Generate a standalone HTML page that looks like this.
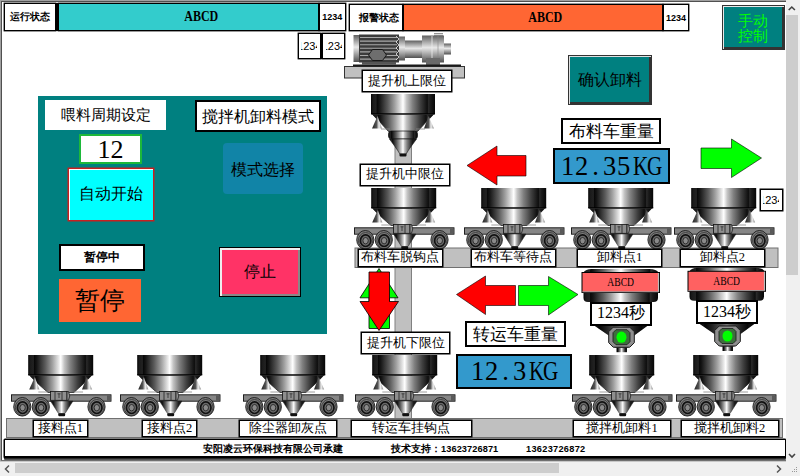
<!DOCTYPE html><html><head><meta charset="utf-8"><style>
html,body{margin:0;padding:0;width:800px;height:476px;overflow:hidden;background:#fff;position:relative}
div{box-sizing:border-box}
</style></head><body>
<svg width="800" height="476" style="position:absolute;left:0;top:0">
<defs>
<linearGradient id="met" x1="0" x2="1" y1="0" y2="0">
<stop offset="0" stop-color="#050505"/><stop offset="0.03" stop-color="#1a1a1a"/>
<stop offset="0.08" stop-color="#222"/><stop offset="0.095" stop-color="#080808"/>
<stop offset="0.13" stop-color="#151515"/><stop offset="0.26" stop-color="#5a5a5a"/>
<stop offset="0.37" stop-color="#a0a0a0"/><stop offset="0.46" stop-color="#e0e0e0"/>
<stop offset="0.5" stop-color="#ffffff"/><stop offset="0.555" stop-color="#c4c4c4"/>
<stop offset="0.65" stop-color="#808080"/><stop offset="0.77" stop-color="#404040"/>
<stop offset="0.88" stop-color="#0e0e0e"/><stop offset="0.9" stop-color="#2a2a2a"/>
<stop offset="0.93" stop-color="#1a1a1a"/><stop offset="1" stop-color="#050505"/></linearGradient>
<linearGradient id="leg" x1="0" x2="1" y1="0" y2="0">
<stop offset="0" stop-color="#222"/><stop offset="0.45" stop-color="#555"/><stop offset="0.7" stop-color="#f0f0f0"/><stop offset="1" stop-color="#888"/></linearGradient>
<symbol id="hop" viewBox="0 0 64 63" overflow="visible" preserveAspectRatio="none">
<rect x="0" y="0" width="64" height="20" fill="url(#met)"/>

<line x1="0" y1="19.8" x2="64" y2="19.8" stroke="#000" stroke-width="1.3"/>
<path d="M1.5,20.5 C7,26.5 13,32 19.5,37.5 L45,37.5 C51,32 57,26.5 62.5,20.5 Z" fill="url(#met)" stroke="#111" stroke-width="0.7"/>
<polygon points="6.5,22 1,34.5 11,34.5" fill="url(#leg)"/>
<polygon points="57.5,22 53,34.5 63,34.5" fill="url(#leg)"/>
<line x1="10" y1="37" x2="19" y2="37" stroke="#888" stroke-width="0.8"/>
<line x1="45" y1="37" x2="54" y2="37" stroke="#888" stroke-width="0.8"/>
</symbol>
<symbol id="hoist" viewBox="0 0 64 63" overflow="visible">
<rect x="0" y="0" width="64" height="20" fill="url(#met)"/>
<line x1="0" y1="19.8" x2="64" y2="19.8" stroke="#000" stroke-width="1.3"/>
<path d="M1.5,20.5 C7,26 12,31.5 17.5,37.5 L46.5,37.5 C52,31.5 57,26 62.5,20.5 Z" fill="url(#met)" stroke="#111" stroke-width="0.7"/>
<polygon points="6.5,22 1,34.5 11,34.5" fill="url(#leg)"/>
<polygon points="57.5,22 53,34.5 63,34.5" fill="url(#leg)"/>
<line x1="10" y1="35" x2="19" y2="35" stroke="#888" stroke-width="0.8"/>
<line x1="45" y1="35" x2="54" y2="35" stroke="#888" stroke-width="0.8"/>
<rect x="17.5" y="37" width="29" height="8" rx="3" fill="url(#met)" stroke="#111" stroke-width="0.7"/>
<path d="M18.5,45 L45.5,45 C42,50 38,55 35,60.2 L29,60.2 C26,55 22,50 18.5,45 Z" fill="url(#met)" stroke="#111" stroke-width="0.6"/>
<rect x="28.5" y="59.5" width="7" height="3" rx="1" fill="#111"/>
</symbol>
<symbol id="wheel" viewBox="-10 -10 20 20" overflow="visible">
<ellipse cx="0" cy="0" rx="8.6" ry="9.3" fill="#7a7a7a" stroke="#1a1a1a" stroke-width="0.9"/>
<ellipse cx="0.3" cy="0.7" rx="7.2" ry="8" fill="none" stroke="#333" stroke-width="0.8"/>
<ellipse cx="0.3" cy="0.9" rx="5.2" ry="5.8" fill="#6a6a6a" stroke="#111" stroke-width="1.7"/>
<ellipse cx="0.3" cy="0.9" rx="2.7" ry="3.2" fill="#8a8a8a" stroke="#222" stroke-width="0.9"/>
</symbol>
<symbol id="cart" viewBox="0 0 102 63" overflow="visible">
<use href="#hop" x="17.2" y="0" width="65" height="63"/>
<rect x="0.5" y="39.8" width="99.5" height="6.4" fill="#868686" stroke="#111" stroke-width="0.9"/>
<rect x="96" y="40.3" width="3.6" height="5.5" fill="#5a5a5a"/>
<use href="#wheel" x="1.3" y="41.8" width="20" height="20"/>
<use href="#wheel" x="19.8" y="41.8" width="20" height="20"/>
<use href="#wheel" x="75.5" y="41.8" width="20" height="20"/>
<rect x="39.5" y="36.5" width="16.5" height="8.8" fill="#8e8e8e" stroke="#111" stroke-width="0.8"/>
<path d="M56,36.5 L57.5,36.5 Q60,41 57.5,45.3 L56,45.3 Z" fill="#8e8e8e" stroke="#111" stroke-width="0.7"/>
<line x1="44" y1="36.5" x2="44" y2="45.3" stroke="#222" stroke-width="0.8"/>
<line x1="51" y1="36.5" x2="51" y2="45.3" stroke="#222" stroke-width="0.8"/>
<line x1="46.5" y1="38.8" x2="49.5" y2="38.8" stroke="#222" stroke-width="0.7"/>
<line x1="48" y1="38.8" x2="48" y2="43" stroke="#222" stroke-width="0.7"/>
<polygon points="39.5,46 62,46 54,58.5 47.5,58.5" fill="url(#met)" stroke="#222" stroke-width="0.5"/>
<rect x="47.3" y="58.3" width="6.8" height="3" rx="1" fill="#111"/>
</symbol>
<linearGradient id="mot" x1="0" x2="0" y1="0" y2="1">
<stop offset="0" stop-color="#606060"/><stop offset="0.45" stop-color="#e8e8e8"/><stop offset="1" stop-color="#505050"/></linearGradient>
</defs>
<rect x="0" y="0" width="786" height="461" fill="none"/>
<line x1="0.5" y1="0" x2="0.5" y2="461" stroke="#a0a0a0"/>
<line x1="1.5" y1="1" x2="1.5" y2="461" stroke="#505050"/>
<line x1="0" y1="0.5" x2="786" y2="0.5" stroke="#a0a0a0"/>
<line x1="1" y1="1.5" x2="786" y2="1.5" stroke="#505050"/>
<line x1="1" y1="460.5" x2="786" y2="460.5" stroke="#707070"/>
<line x1="0" y1="461.5" x2="786" y2="461.5" stroke="#c8c8c8"/>
<rect x="344.5" y="66.5" width="120" height="11.5" fill="#c0c0c0" stroke="#333"/>
<rect x="353.5" y="35" width="5.5" height="27" fill="url(#mot)"/>
<rect x="359" y="34.5" width="40" height="28" fill="#3c3c3c"/>
<line x1="360" y1="37.5" x2="397" y2="37.5" stroke="#a8a8a8" stroke-width="1.1"/>
<line x1="360" y1="41.1" x2="397" y2="41.1" stroke="#a8a8a8" stroke-width="1.1"/>
<line x1="360" y1="44.7" x2="397" y2="44.7" stroke="#a8a8a8" stroke-width="1.1"/>
<line x1="360" y1="48.3" x2="397" y2="48.3" stroke="#a8a8a8" stroke-width="1.1"/>
<line x1="360" y1="51.9" x2="397" y2="51.9" stroke="#a8a8a8" stroke-width="1.1"/>
<line x1="360" y1="55.5" x2="397" y2="55.5" stroke="#a8a8a8" stroke-width="1.1"/>
<line x1="360" y1="59.1" x2="397" y2="59.1" stroke="#a8a8a8" stroke-width="1.1"/>
<polyline points="396,36 399,39 396,42 399,45 396,48 399,51 396,54 399,57 396,60" fill="none" stroke="#eee" stroke-width="0.8"/>
<polygon points="368.5,55 372.5,49.5 382.5,49.5 386.5,55 382.5,60.5 372.5,60.5" fill="#6e6e6e" stroke="#111" stroke-width="0.9"/>
<rect x="399" y="36.5" width="6" height="24" fill="url(#mot)"/>
<rect x="405" y="40.5" width="17" height="17.5" fill="url(#mot)"/>
<rect x="422" y="35.5" width="10" height="27" fill="url(#mot)"/>
<rect x="432" y="35.5" width="12" height="27" fill="url(#mot)"/>
<line x1="432" y1="36" x2="432" y2="62" stroke="#eee" stroke-width="0.8"/>
<line x1="438" y1="36" x2="438" y2="62" stroke="#888" stroke-width="0.6"/>
<rect x="444" y="43.5" width="7" height="11" fill="url(#mot)"/>
<rect x="434" y="33" width="9" height="3" fill="url(#mot)"/>
<rect x="426" y="58" width="14" height="7" fill="#6a6a6a"/>
<rect x="362" y="62" width="34" height="2.5" fill="#555"/>
<rect x="353" y="64.5" width="108" height="2" fill="#1a1a1a"/>
<rect x="395" y="140" width="16.5" height="24" fill="#c0c0c0" stroke="#808080" stroke-width="1"/>
<rect x="395" y="185" width="16.5" height="64" fill="#c0c0c0" stroke="#808080" stroke-width="1"/>
<rect x="395" y="266" width="16.5" height="67" fill="#c0c0c0" stroke="#808080" stroke-width="1"/>
<rect x="395" y="352" width="16.5" height="67" fill="#c0c0c0" stroke="#808080" stroke-width="1"/>
<rect x="355" y="248" width="423" height="19.5" fill="#c0c0c0" stroke="#707070" stroke-width="1"/>
<rect x="6.5" y="418.5" width="776" height="19" fill="#c0c0c0" stroke="#707070" stroke-width="1"/>
<use href="#hoist" x="371" y="94" width="64" height="63"/>
<use href="#cart" x="354" y="188" width="102" height="63"/>
<use href="#cart" x="464" y="188" width="102" height="63"/>
<use href="#cart" x="571" y="188" width="102" height="63"/>
<use href="#cart" x="674" y="188" width="102" height="63"/>
<use href="#cart" x="11" y="355" width="102" height="63"/>
<use href="#cart" x="120" y="355" width="102" height="63"/>
<use href="#cart" x="243" y="355" width="102" height="63"/>
<use href="#cart" x="355" y="355" width="102" height="63"/>
<use href="#cart" x="572" y="355" width="102" height="63"/>
<use href="#cart" x="676" y="355" width="102" height="63"/>
<path d="M583.5,292 L658.0,292 L658.0,298 Q658.0,302 653.5,302 L588.0,302 Q583.5,302 583.5,298 Z" fill="url(#met)"/>
<path d="M583.5,272.5 Q585.5,269 591.5,269 L649.5,269 Q656.5,269 658.5,272.5 Z" fill="url(#met)"/>
<rect x="582.0" y="272.5" width="77.5" height="20" fill="#ff6161" stroke="#000" stroke-width="1"/>
<line x1="658.5" y1="273" x2="658.5" y2="292" stroke="#bbb" stroke-width="1.2"/>
<line x1="582.5" y1="291.8" x2="659.0" y2="291.8" stroke="#999" stroke-width="1"/>
<polygon points="593.5,325 648.5,325 633.5,336 609.5,336" fill="url(#met)"/>
<polygon points="593.5,325 648.5,325 633.5,336 609.5,336" fill="#000" opacity="0.55"/>
<rect x="616.5" y="345.2" width="10.5" height="7" fill="url(#met)"/>
<rect x="614.5" y="345.2" width="14" height="2.5" fill="#333"/>
<polygon points="613.2,327.2 629.8,327.2 634.3,331.7 634.3,342.7 629.8,347.2 613.2,347.2 608.7,342.7 608.7,331.7" fill="#8e8e8e" stroke="#1a1a1a" stroke-width="1"/>
<polygon points="616.0,329.7 627.0,329.7 630.0,332.7 630.0,341.7 627.0,344.7 616.0,344.7 613.0,341.7 613.0,332.7" fill="#3d6e3d" stroke="#222" stroke-width="0.9"/>
<ellipse cx="621.5" cy="337.2" rx="5" ry="5.6" fill="#00ff00"/>
<path d="M689.5,290.8 L764.0,290.8 L764.0,296.8 Q764.0,300.8 759.5,300.8 L694.0,300.8 Q689.5,300.8 689.5,296.8 Z" fill="url(#met)"/>
<path d="M689.5,271.3 Q691.5,267.8 697.5,267.8 L755.5,267.8 Q762.5,267.8 764.5,271.3 Z" fill="url(#met)"/>
<rect x="688.0" y="271.3" width="77.5" height="20" fill="#ff6161" stroke="#000" stroke-width="1"/>
<line x1="764.5" y1="271.8" x2="764.5" y2="290.8" stroke="#bbb" stroke-width="1.2"/>
<line x1="688.5" y1="290.6" x2="765.0" y2="290.6" stroke="#999" stroke-width="1"/>
<polygon points="699.5,323.8 754.5,323.8 739.5,334.8 715.5,334.8" fill="url(#met)"/>
<polygon points="699.5,323.8 754.5,323.8 739.5,334.8 715.5,334.8" fill="#000" opacity="0.55"/>
<rect x="722.5" y="344.0" width="10.5" height="7" fill="url(#met)"/>
<rect x="720.5" y="344.0" width="14" height="2.5" fill="#333"/>
<polygon points="719.2,326.0 735.8,326.0 740.3,330.5 740.3,341.5 735.8,346.0 719.2,346.0 714.7,341.5 714.7,330.5" fill="#8e8e8e" stroke="#1a1a1a" stroke-width="1"/>
<polygon points="722.0,328.5 733.0,328.5 736.0,331.5 736.0,340.5 733.0,343.5 722.0,343.5 719.0,340.5 719.0,331.5" fill="#3d6e3d" stroke="#222" stroke-width="0.9"/>
<ellipse cx="727.5" cy="336.0" rx="5" ry="5.6" fill="#00ff00"/>
<polygon points="467,165.5 497,146 497,155.5 526,155.5 526,176 497,176 497,185" fill="#ff0000" stroke="#000" stroke-width="0.6"/>
<polygon points="761.5,158 731.5,139 731.5,148 701,148 701,168.5 731.5,168.5 731.5,177.5" fill="#00ff00" stroke="#000" stroke-width="0.6"/>
<polygon points="456.5,294.5 485.5,276 485.5,285.5 515.5,285.5 515.5,305.5 485.5,305.5 485.5,314.5" fill="#ff0000" stroke="#000" stroke-width="0.6"/>
<polygon points="578,294.5 548.5,276.5 548.5,285.5 518.5,285.5 518.5,305.5 548.5,305.5 548.5,315" fill="#00ff00" stroke="#000" stroke-width="0.6"/>
<polygon points="379,268.5 398,297.8 389.5,297.8 389.5,328.5 369,328.5 369,297.8 360,297.8" fill="#00ff00" stroke="#000" stroke-width="0.8"/>
<polygon points="369,272 389.5,272 389.5,301.5 398.5,301.5 379,330.5 360,301.5 369,301.5" fill="#ff0000" stroke="#000" stroke-width="0.8"/>
</svg>
<div style="position:absolute;left:4.3px;top:3.3px;width:52.2px;height:27.4px;box-sizing:border-box;background:#fff;border:1px solid #000;display:flex;align-items:center;justify-content:center;overflow:hidden;white-space:nowrap;font-family:'Liberation Sans', sans-serif;font-size:10px;font-weight:bold;color:#000;box-shadow:0 0 0 0.4px #000;">运行状态</div>
<div style="position:absolute;left:57.5px;top:3.3px;width:261.2px;height:27.4px;box-sizing:border-box;background:#33cccc;border:1px solid #000;display:flex;align-items:center;justify-content:center;overflow:hidden;white-space:nowrap;font-family:'Liberation Serif', serif;font-size:15px;font-weight:bold;color:#000;box-shadow:0 0 0 0.4px #000;"><span style="display:inline-block;transform:scaleX(0.8);margin-left:26px">ABCD</span></div>
<div style="position:absolute;left:318.7px;top:3.3px;width:27.0px;height:27.4px;box-sizing:border-box;background:#fff;border:1px solid #000;display:flex;align-items:center;justify-content:center;overflow:hidden;white-space:nowrap;font-family:'Liberation Sans', sans-serif;font-size:9px;font-weight:bold;color:#000;box-shadow:0 0 0 0.4px #000;">1234</div>
<div style="position:absolute;left:56.2px;top:3px;width:2.799999999999997px;height:28px;background:#000;"></div>
<div style="position:absolute;left:318px;top:3px;width:1.6000000000000227px;height:28px;background:#000;"></div>
<div style="position:absolute;left:348.5px;top:4.2px;width:54.0px;height:26.8px;box-sizing:border-box;background:#fff;border:1px solid #000;display:flex;align-items:center;justify-content:center;overflow:hidden;white-space:nowrap;font-family:'Liberation Sans', sans-serif;font-size:10px;font-weight:bold;color:#000;padding-left:7px;box-shadow:0 0 0 0.4px #000;">报警状态</div>
<div style="position:absolute;left:402.5px;top:4.2px;width:260.0px;height:26.8px;box-sizing:border-box;background:#ff6633;border:1px solid #000;display:flex;align-items:center;justify-content:center;overflow:hidden;white-space:nowrap;font-family:'Liberation Serif', serif;font-size:15px;font-weight:bold;color:#000;box-shadow:0 0 0 0.4px #000;"><span style="display:inline-block;transform:scaleX(0.8);margin-left:26px">ABCD</span></div>
<div style="position:absolute;left:662.5px;top:4.2px;width:26.799999999999955px;height:27.1px;box-sizing:border-box;background:#fff;border:1px solid #000;display:flex;align-items:center;justify-content:center;overflow:hidden;white-space:nowrap;font-family:'Liberation Sans', sans-serif;font-size:9px;font-weight:bold;color:#000;box-shadow:0 0 0 0.4px #000;">1234</div>
<div style="position:absolute;left:401.8px;top:4px;width:1.8000000000000114px;height:27.3px;background:#000;"></div>
<div style="position:absolute;left:661.8px;top:4px;width:2.2000000000000455px;height:27.3px;background:#000;"></div>
<div style="position:absolute;left:297.8px;top:32.8px;width:23.0px;height:26.0px;box-sizing:border-box;background:#fff;border:1px solid #000;display:flex;align-items:center;justify-content:center;overflow:hidden;white-space:nowrap;font-family:'Liberation Sans', sans-serif;font-size:11px;font-weight:normal;color:#000;box-shadow:0 0 0 0.4px #000;"><div style="width:16px;overflow:hidden;display:flex;justify-content:center">1234</div></div>
<div style="position:absolute;left:322.3px;top:32.8px;width:23.19999999999999px;height:26.0px;box-sizing:border-box;background:#fff;border:1px solid #000;display:flex;align-items:center;justify-content:center;overflow:hidden;white-space:nowrap;font-family:'Liberation Sans', sans-serif;font-size:11px;font-weight:normal;color:#000;box-shadow:0 0 0 0.4px #000;"><div style="width:16px;overflow:hidden;display:flex;justify-content:center">1234</div></div>
<div style="position:absolute;left:320.5px;top:32.5px;width:2.0px;height:26.5px;background:#000;"></div>
<div style="position:absolute;left:721.5px;top:4.5px;width:63.0px;height:45.0px;box-sizing:border-box;background:#008080;border:1px solid #333;display:flex;align-items:center;justify-content:center;overflow:hidden;white-space:nowrap;font-family:'Liberation Sans', sans-serif;font-size:15px;font-weight:normal;color:#00ff00;line-height:15px;text-align:center;box-shadow:inset 1px 1px 0 #e8e8e8, inset -2px -2px 0 #333;padding-top:1px;">手动<br>控制</div>
<div style="position:absolute;left:38px;top:96px;width:289px;height:238px;background:#008080;"></div>
<div style="position:absolute;left:45px;top:100px;width:121px;height:30px;box-sizing:border-box;background:#fff;border:none;display:flex;align-items:center;justify-content:center;overflow:hidden;white-space:nowrap;font-family:'Liberation Serif', serif;font-size:15px;font-weight:normal;color:#000;">喂料周期设定</div>
<div style="position:absolute;left:79px;top:134px;width:63px;height:30px;box-sizing:border-box;background:#fff;border:2px solid #1db83a;display:flex;align-items:center;justify-content:center;overflow:hidden;white-space:nowrap;font-family:'Liberation Serif', serif;font-size:26px;font-weight:normal;color:#000;padding-top:1px;">12</div>
<div style="position:absolute;left:68px;top:168px;width:86px;height:53px;box-sizing:border-box;background:#00ffff;border:1px solid #c62020;display:flex;align-items:center;justify-content:center;overflow:hidden;white-space:nowrap;font-family:'Liberation Sans', sans-serif;font-size:16px;font-weight:normal;color:#000;box-shadow:inset 1px 1px 0 #fff, 0 0 0 0.5px #c62020;">自动开始</div>
<div style="position:absolute;left:195px;top:99.5px;width:125.5px;height:32.5px;box-sizing:border-box;background:#fff;border:2px solid #000;display:flex;align-items:center;justify-content:center;overflow:hidden;white-space:nowrap;font-family:'Liberation Serif', serif;font-size:16px;font-weight:normal;color:#000;padding-top:3px;">搅拌机卸料模式</div>
<div style="position:absolute;left:223px;top:143px;width:80px;height:51px;box-sizing:border-box;background:#1184a7;border:none;display:flex;align-items:center;justify-content:center;overflow:hidden;white-space:nowrap;font-family:'Liberation Sans', sans-serif;font-size:16px;font-weight:normal;color:#000;border-radius:4px;padding-top:3px;">模式选择</div>
<div style="position:absolute;left:59px;top:244px;width:86px;height:27px;box-sizing:border-box;background:#fff;border:2px solid #000;display:flex;align-items:center;justify-content:center;overflow:hidden;white-space:nowrap;font-family:'Liberation Sans', sans-serif;font-size:12px;font-weight:bold;color:#000;">暂停中</div>
<div style="position:absolute;left:59px;top:279px;width:82px;height:43px;box-sizing:border-box;background:#ff6633;border:none;display:flex;align-items:center;justify-content:center;overflow:hidden;white-space:nowrap;font-family:'Liberation Sans', sans-serif;font-size:25px;font-weight:normal;color:#000;">暂停</div>
<div style="position:absolute;left:219px;top:247px;width:82px;height:50px;box-sizing:border-box;background:#ff3366;border:1px solid #000;display:flex;align-items:center;justify-content:center;overflow:hidden;white-space:nowrap;font-family:'Liberation Sans', sans-serif;font-size:16px;font-weight:normal;color:#000;box-shadow:inset 2px 2px 0 #eee, inset -2px -2px 0 #888;">停止</div>
<div style="position:absolute;left:362.3px;top:70.2px;width:89.39999999999998px;height:21.799999999999997px;box-sizing:border-box;background:#fff;border:1px solid #000;display:flex;align-items:center;justify-content:center;overflow:hidden;white-space:nowrap;font-family:'Liberation Serif', serif;font-size:12.5px;font-weight:normal;color:#000;box-shadow:0 0 0 0.5px #000;">提升机上限位</div>
<div style="position:absolute;left:359.9px;top:163.5px;width:90.30000000000001px;height:22.5px;box-sizing:border-box;background:#fff;border:1px solid #000;display:flex;align-items:center;justify-content:center;overflow:hidden;white-space:nowrap;font-family:'Liberation Serif', serif;font-size:12.5px;font-weight:normal;color:#000;box-shadow:0 0 0 0.5px #000;">提升机中限位</div>
<div style="position:absolute;left:357.7px;top:249px;width:85.30000000000001px;height:17.5px;box-sizing:border-box;background:#fff;border:1px solid #000;display:flex;align-items:center;justify-content:center;overflow:hidden;white-space:nowrap;font-family:'Liberation Serif', serif;font-size:12.5px;font-weight:normal;color:#000;box-shadow:0 0 0 0.5px #000;">布料车脱钩点</div>
<div style="position:absolute;left:470.7px;top:249px;width:85.50000000000006px;height:17.5px;box-sizing:border-box;background:#fff;border:1px solid #000;display:flex;align-items:center;justify-content:center;overflow:hidden;white-space:nowrap;font-family:'Liberation Serif', serif;font-size:12.5px;font-weight:normal;color:#000;box-shadow:0 0 0 0.5px #000;">布料车等待点</div>
<div style="position:absolute;left:577.2px;top:249px;width:84.79999999999995px;height:17.5px;box-sizing:border-box;background:#fff;border:1px solid #000;display:flex;align-items:center;justify-content:center;overflow:hidden;white-space:nowrap;font-family:'Liberation Serif', serif;font-size:12.5px;font-weight:normal;color:#000;box-shadow:0 0 0 0.5px #000;">卸料点1</div>
<div style="position:absolute;left:679.8px;top:249px;width:85.20000000000005px;height:17.5px;box-sizing:border-box;background:#fff;border:1px solid #000;display:flex;align-items:center;justify-content:center;overflow:hidden;white-space:nowrap;font-family:'Liberation Serif', serif;font-size:12.5px;font-weight:normal;color:#000;box-shadow:0 0 0 0.5px #000;">卸料点2</div>
<div style="position:absolute;left:360.9px;top:332.3px;width:89.30000000000001px;height:21.69999999999999px;box-sizing:border-box;background:#fff;border:1px solid #000;display:flex;align-items:center;justify-content:center;overflow:hidden;white-space:nowrap;font-family:'Liberation Serif', serif;font-size:12.5px;font-weight:normal;color:#000;box-shadow:0 0 0 0.5px #000;">提升机下限位</div>
<div style="position:absolute;left:568px;top:55px;width:84px;height:50px;box-sizing:border-box;background:#008080;border:1px solid #333;display:flex;align-items:center;justify-content:center;overflow:hidden;white-space:nowrap;font-family:'Liberation Sans', sans-serif;font-size:16px;font-weight:normal;color:#000;box-shadow:inset 1px 1px 0 #e0e0e0, inset -2px -2px 0 #333;">确认卸料</div>
<div style="position:absolute;left:561px;top:118px;width:100px;height:26px;box-sizing:border-box;background:#fff;border:2px solid #000;display:flex;align-items:center;justify-content:center;overflow:hidden;white-space:nowrap;font-family:'Liberation Serif', serif;font-size:17px;font-weight:normal;color:#000;">布料车重量</div>
<div style="position:absolute;left:553px;top:148px;width:117px;height:36px;box-sizing:border-box;background:#3399cc;border:2px solid #000;display:flex;align-items:center;justify-content:center;overflow:hidden;white-space:nowrap;font-family:'Liberation Serif', serif;font-size:26.5px;font-weight:normal;color:#000;padding-right:4px;"><span style="display:inline-block;width:14px;text-align:center"><span style="display:inline-block;transform:scaleX(1)">1</span></span><span style="display:inline-block;width:14px;text-align:center"><span style="display:inline-block;transform:scaleX(1)">2</span></span><span style="display:inline-block;width:14px;text-align:center"><span style="display:inline-block;transform:scaleX(1)">.</span></span><span style="display:inline-block;width:14px;text-align:center"><span style="display:inline-block;transform:scaleX(1)">3</span></span><span style="display:inline-block;width:14px;text-align:center"><span style="display:inline-block;transform:scaleX(1)">5</span></span><span style="display:inline-block;width:14px;text-align:center"><span style="display:inline-block;transform:scaleX(0.8)">K</span></span><span style="display:inline-block;width:14px;text-align:center"><span style="display:inline-block;transform:scaleX(0.8)">G</span></span></div>
<div style="position:absolute;left:465px;top:321px;width:101px;height:26px;box-sizing:border-box;background:#fff;border:2px solid #000;display:flex;align-items:center;justify-content:center;overflow:hidden;white-space:nowrap;font-family:'Liberation Serif', serif;font-size:17px;font-weight:normal;color:#000;">转运车重量</div>
<div style="position:absolute;left:456px;top:354px;width:116px;height:35px;box-sizing:border-box;background:#3399cc;border:2px solid #000;display:flex;align-items:center;justify-content:center;overflow:hidden;white-space:nowrap;font-family:'Liberation Serif', serif;font-size:26.5px;font-weight:normal;color:#000;padding-right:3px;"><span style="display:inline-block;width:14px;text-align:center"><span style="display:inline-block;transform:scaleX(1)">1</span></span><span style="display:inline-block;width:14px;text-align:center"><span style="display:inline-block;transform:scaleX(1)">2</span></span><span style="display:inline-block;width:14px;text-align:center"><span style="display:inline-block;transform:scaleX(1)">.</span></span><span style="display:inline-block;width:14px;text-align:center"><span style="display:inline-block;transform:scaleX(1)">3</span></span><span style="display:inline-block;width:14px;text-align:center"><span style="display:inline-block;transform:scaleX(0.8)">K</span></span><span style="display:inline-block;width:14px;text-align:center"><span style="display:inline-block;transform:scaleX(0.8)">G</span></span></div>
<div style="position:absolute;left:759.8px;top:188.5px;width:23.0px;height:22.5px;box-sizing:border-box;background:#fff;border:1px solid #000;display:flex;align-items:center;justify-content:center;overflow:hidden;white-space:nowrap;font-family:'Liberation Sans', sans-serif;font-size:11px;font-weight:normal;color:#000;box-shadow:0 0 0 0.5px #000;"><div style="width:16px;overflow:hidden;display:flex;justify-content:center">1234</div></div>
<div style="position:absolute;left:581.5px;top:272px;width:78.5px;height:21px;box-sizing:border-box;background:transparent;border:none;display:flex;align-items:center;justify-content:center;overflow:hidden;white-space:nowrap;font-family:'Liberation Serif', serif;font-size:12px;font-weight:normal;color:#000;"><span style="display:inline-block;transform:scaleX(0.8)">ABCD</span></div>
<div style="position:absolute;left:590.0px;top:301.5px;width:62.0px;height:24.0px;box-sizing:border-box;background:#fff;border:2px solid #000;display:flex;align-items:center;justify-content:center;overflow:hidden;white-space:nowrap;font-family:'Liberation Serif', serif;font-size:16px;font-weight:normal;color:#000;">1234秒</div>
<div style="position:absolute;left:687.5px;top:270.8px;width:78.5px;height:21.0px;box-sizing:border-box;background:transparent;border:none;display:flex;align-items:center;justify-content:center;overflow:hidden;white-space:nowrap;font-family:'Liberation Serif', serif;font-size:12px;font-weight:normal;color:#000;"><span style="display:inline-block;transform:scaleX(0.8)">ABCD</span></div>
<div style="position:absolute;left:696.0px;top:300.3px;width:62.0px;height:24.0px;box-sizing:border-box;background:#fff;border:2px solid #000;display:flex;align-items:center;justify-content:center;overflow:hidden;white-space:nowrap;font-family:'Liberation Serif', serif;font-size:16px;font-weight:normal;color:#000;">1234秒</div>
<div style="position:absolute;left:32.7px;top:419.7px;width:55.3px;height:17.5px;box-sizing:border-box;background:#fff;border:1px solid #000;display:flex;align-items:center;justify-content:center;overflow:hidden;white-space:nowrap;font-family:'Liberation Serif', serif;font-size:12.5px;font-weight:normal;color:#000;box-shadow:0 0 0 0.5px #000;">接料点1</div>
<div style="position:absolute;left:142.2px;top:419.7px;width:54.900000000000006px;height:17.5px;box-sizing:border-box;background:#fff;border:1px solid #000;display:flex;align-items:center;justify-content:center;overflow:hidden;white-space:nowrap;font-family:'Liberation Serif', serif;font-size:12.5px;font-weight:normal;color:#000;box-shadow:0 0 0 0.5px #000;">接料点2</div>
<div style="position:absolute;left:238.7px;top:419.7px;width:98.40000000000003px;height:17.5px;box-sizing:border-box;background:#fff;border:1px solid #000;display:flex;align-items:center;justify-content:center;overflow:hidden;white-space:nowrap;font-family:'Liberation Serif', serif;font-size:12.5px;font-weight:normal;color:#000;box-shadow:0 0 0 0.5px #000;">除尘器卸灰点</div>
<div style="position:absolute;left:350.5px;top:419.7px;width:121.30000000000001px;height:17.5px;box-sizing:border-box;background:#fff;border:1px solid #000;display:flex;align-items:center;justify-content:center;overflow:hidden;white-space:nowrap;font-family:'Liberation Serif', serif;font-size:12.5px;font-weight:normal;color:#000;box-shadow:0 0 0 0.5px #000;">转运车挂钩点</div>
<div style="position:absolute;left:573px;top:419.7px;width:98.20000000000005px;height:17.5px;box-sizing:border-box;background:#fff;border:1px solid #000;display:flex;align-items:center;justify-content:center;overflow:hidden;white-space:nowrap;font-family:'Liberation Serif', serif;font-size:12.5px;font-weight:normal;color:#000;box-shadow:0 0 0 0.5px #000;">搅拌机卸料1</div>
<div style="position:absolute;left:680.5px;top:419.7px;width:98.0px;height:17.5px;box-sizing:border-box;background:#fff;border:1px solid #000;display:flex;align-items:center;justify-content:center;overflow:hidden;white-space:nowrap;font-family:'Liberation Serif', serif;font-size:12.5px;font-weight:normal;color:#000;box-shadow:0 0 0 0.5px #000;">搅拌机卸料2</div>
<div style="position:absolute;left:3.5px;top:438.7px;width:782.0px;height:19.80000000000001px;box-sizing:border-box;background:#fff;border:1px solid #000;display:flex;align-items:center;justify-content:center;overflow:hidden;white-space:nowrap;font-family:'Liberation Sans', sans-serif;font-size:12px;font-weight:normal;color:#000;border-bottom-width:2px;border-radius:1px;box-shadow:0 0 0 0.5px #000, 0 2px 0 0 #555;"></div>
<div style="position:absolute;left:203px;top:443px;font-family:'Liberation Sans', sans-serif;font-size:10px;font-weight:bold;white-space:nowrap;line-height:11px">安阳凌云环保科技有限公司承建</div>
<div style="position:absolute;left:391px;top:443px;font-family:'Liberation Sans', sans-serif;font-size:10px;font-weight:bold;white-space:nowrap;line-height:11px">技术支持：<span style="font-size:9.2px;letter-spacing:0.1px">13623726871</span></div>
<div style="position:absolute;left:526px;top:444px;font-family:'Liberation Sans', sans-serif;font-size:9.2px;letter-spacing:0.3px;font-weight:bold;white-space:nowrap;line-height:11px">13623726872</div>
<div style="position:absolute;left:786px;top:0px;width:14px;height:476px;background:#f0f0f0;"></div>
<div style="position:absolute;left:0px;top:462px;width:800px;height:14px;background:#f0f0f0;"></div>
<div style="position:absolute;left:786px;top:15px;width:11.700000000000045px;height:260px;background:#cdcdcd;"></div>
<div style="position:absolute;left:15px;top:463px;width:544px;height:10px;background:#cdcdcd;"></div>
<svg width="800" height="476" style="position:absolute;left:0;top:0"><polyline points="788.7,10 791.8,7 794.9,10" fill="none" stroke="#444" stroke-width="1.6"/><polyline points="789,454 792,457 795,454" fill="none" stroke="#444" stroke-width="1.6"/><polyline points="9,465.5 5.5,469 9,472.5" fill="none" stroke="#555" stroke-width="1.5"/><polyline points="777,465.5 780.5,469 777,472.5" fill="none" stroke="#555" stroke-width="1.5"/><g fill="#999"><rect x="796" y="467" width="1" height="1"/><rect x="794" y="469" width="1" height="1"/><rect x="796" y="469" width="1" height="1"/><rect x="792" y="471" width="1" height="1"/><rect x="794" y="471" width="1" height="1"/><rect x="796" y="471" width="1" height="1"/></g></svg>
</body></html>
